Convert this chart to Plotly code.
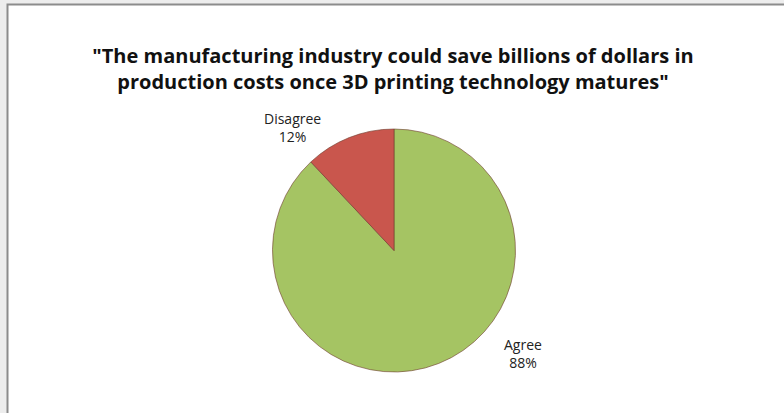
import plotly.graph_objects as go

# Survey responses (clockwise from 12 o'clock)
categories = ["Agree", "Disagree"]
shares = [88, 12]
colors = ["#a5c463", "#c9564d"]

title_text = ('<b>"The manufacturing industry could save billions of dollars in<br>'
              'production costs once 3D printing technology matures"</b>')

W, H = 784, 413
cx, cy, r = 394, 250.5, 121.5  # pie centre / radius in px (from top-left)

fig = go.Figure()
fig.add_trace(go.Pie(
    labels=categories,
    values=shares,
    sort=False,
    direction="clockwise",
    rotation=0,
    marker=dict(colors=colors, line=dict(color="rgba(110,60,45,0.6)", width=1)),
    textinfo="none",
    hoverinfo="label+percent",
    showlegend=False,
    domain=dict(x=[(cx - r) / W, (cx + r) / W], y=[(H - cy - r) / H, (H - cy + r) / H]),
))

# Data labels: category name and share
label_pos = {"Disagree": (292, 127), "Agree": (523, 353)}
total = sum(shares)
annotations = []
for cat, val in zip(categories, shares):
    px, py = label_pos[cat]
    annotations.append(dict(
        x=px / W, y=(H - py) / H, xref="paper", yref="paper",
        text=f"{cat}<br>{round(100 * val / total)}%",
        showarrow=False, xanchor="center", yanchor="middle",
        font=dict(family="Open Sans", size=14, color="#222222"),
    ))

fig.update_layout(
    width=W, height=H,
    margin=dict(l=0, r=0, t=0, b=0),
    paper_bgcolor="#ededed",
    plot_bgcolor="white",
    title=dict(
        text=title_text, x=393 / W, xanchor="center",
        y=(H - 63) / H, yanchor="middle",
        font=dict(family="Open Sans", size=20, color="#111111"),
    ),
    annotations=annotations,
    shapes=[dict(
        type="rect", xref="paper", yref="paper",
        x0=7.5 / W, x1=1.2, y0=-0.2, y1=(H - 4.5) / H,
        fillcolor="white", line=dict(color="#8c8c8c", width=2), layer="below",
    )],
)

fig.write_html("out.html")
